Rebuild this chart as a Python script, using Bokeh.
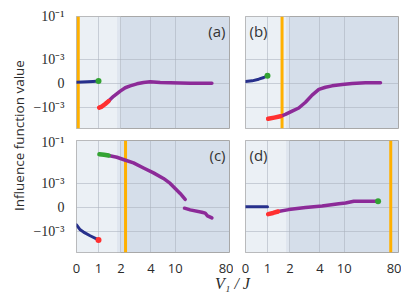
import numpy as np
from math import pi
from bokeh.plotting import figure
from bokeh.layouts import row, column
from bokeh.models import (Range1d, FixedTicker, CustomJSTickFormatter, BoxAnnotation,
                          Span, Label, Grid)
from bokeh.embed import file_html
from bokeh.resources import INLINE

# ---------------- data ----------------
X_TICKS = [0, 1, 2, 4, 10, 80]
X_TICK_LABELS = ["0", "1", "2", "4", "10", "80"]
X_TICK_POS = [0, 1, 2.018, 3.382, 4.486, 6.955]   # axis scale definition (piecewise)
Y_TICKS = [-1e-3, 0, 1e-3, 1e-1]
Y_TICK_LABELS = ["\u221210\u207b\u00b3", "0", "10\u207b\u00b3", "10\u207b\u00b9"]
Y_MIN, Y_MAX = -1e-2, 1e-1
LINTHRESH = 1e-3

REGION_LIGHT = [0, 1.85]
REGION_MID = [1.85, 2.0]

# panel (a)
A_BLUE_V = [0, 0.25, 0.5, 0.75, 1.0]
A_BLUE_Y = [4e-5, 5e-5, 6e-5, 7.5e-5, 9e-5]
A_GREEN_V = [1.0]
A_GREEN_Y = [9e-5]
A_RED_V = [1.03, 1.15, 1.3, 1.45]
A_RED_Y = [-1.07e-3, -9.8e-4, -8.7e-4, -7.5e-4]
A_PURPLE_V = [1.45, 1.67, 1.97, 2.29, 2.62, 3.07, 3.51, 3.95, 6.3, 8.77, 16.4, 29.3, 42.2, 57.3]
A_PURPLE_Y = [-7.5e-4, -5.5e-4, -3.3e-4, -1.9e-4, -1.1e-4, -2.5e-5, 3e-5, 6e-5, 3e-5,
              1.7e-5, 5e-6, 0, -5e-6, -5e-6]
A_ORANGE = 0.08

# panel (b)
B_BLUE_V = [0, 0.3, 0.6, 0.83, 1.0]
B_BLUE_Y = [7e-5, 1e-4, 1.7e-4, 2.4e-4, 3.1e-4]
B_GREEN_V = [1.0]
B_GREEN_Y = [3.1e-4]
B_RED_V = [1.03, 1.3, 1.58]
B_RED_Y = [-3.5e-3, -3.1e-3, -2.7e-3]
B_PURPLE_V = [1.58, 1.80, 2.15, 2.59, 3.04, 3.48, 3.93, 5.38, 7.0, 9.5, 20.2, 37.4, 56.8]
B_PURPLE_Y = [-2.7e-3, -2.2e-3, -1.55e-3, -1.11e-3, -8.0e-4, -5.0e-4, -2.6e-4, -1.7e-4,
              -1.1e-4, -5.4e-5, -1.3e-5, 1.7e-5, 1.7e-5]
B_ORANGE = 1.65

# panel (c)
C_BLUE_V = [0, 0.17, 0.32, 0.62, 1.0]
C_BLUE_Y = [-7.4e-4, -9.5e-4, -1.12e-3, -1.66e-3, -2.6e-3]
C_RED_V = [1.0]
C_RED_Y = [-2.6e-3]
C_GREEN_V = [1.04, 1.25, 1.45]
C_GREEN_Y = [2.3e-2, 2.15e-2, 2.0e-2]
C_PURPLE_V = [1.45, 1.82, 2.31, 2.84, 3.51, 4.64, 7.1, 8.77, 10, 16.4, 22.9]
C_PURPLE_Y = [2.0e-2, 1.66e-2, 1.2e-2, 9.0e-3, 5.2e-3, 3.1e-3, 1.7e-3, 1.0e-3, 7.9e-4,
              5.8e-4, 3.3e-4]
C_PURPLE2_V = [22, 29.3, 44.4, 48.7, 51.6, 57.3]
C_PURPLE2_Y = [-4e-5, -1.1e-4, -2.1e-4, -2.5e-4, -3.6e-4, -4.5e-4]
C_ORANGE = 2.31

# panel (d)
D_BLUE_V = [0, 0.5, 1.0]
D_BLUE_Y = [2e-5, 2e-5, 2e-5]
D_RED_V = [1.03, 1.25, 1.47]
D_RED_Y = [-2.9e-4, -2.4e-4, -1.8e-4]
D_PURPLE_V = [1.47, 1.95, 3.04, 4.54, 8.67, 11.7, 22.4, 37.4, 53.7]
D_PURPLE_Y = [-1.8e-4, -1.0e-4, -1.6e-5, 5.4e-5, 1.5e-4, 1.8e-4, 2.5e-4, 2.5e-4, 2.5e-4]
D_GREEN_V = [53.7]
D_GREEN_Y = [2.5e-4]
D_ORANGE = 70

# ---------------- scales ----------------
LINSCALE = 1.0 / (1.0 - 1.0 / 10.0)


def tx(v):
    return np.interp(np.asarray(v, float), X_TICKS, X_TICK_POS)


def ty(y):
    y = np.asarray(y, float)
    a = np.abs(y)
    safe = np.maximum(a, LINTHRESH)
    return np.where(a <= LINTHRESH, y / LINTHRESH * LINSCALE,
                    np.sign(y) * (LINSCALE + np.log10(safe / LINTHRESH)))


BLUE = "#27308c"
PURPLE = "#8c2a98"
RED = "#ff3030"
GREEN = "#33a333"
ORANGE = "#ffb000"
BG_DARK = "#d5deea"
BG_LIGHT = "#ebf0f5"
BG_MID = "#dfe6ef"

SANS = "Open Sans"
SERIF = "Liberation Serif"

fmt_js = """
let best = 0;
for (let i = 0; i < pos.length; i++) {
  if (Math.abs(pos[i] - tick) < Math.abs(pos[best] - tick)) best = i;
}
return lab[best];
"""


def panel(name, series, orange, left_axis, bottom_axis, label_right,
          mb_left, mb_right, mb_top, mb_bottom):
    p = figure(frame_width=153, frame_height=112,
               x_range=Range1d(float(tx(0)), float(tx(80))),
               y_range=Range1d(float(ty(Y_MIN)), float(ty(Y_MAX))),
               toolbar_location=None, output_backend="svg",
               min_border_left=mb_left, min_border_right=mb_right,
               min_border_top=mb_top, min_border_bottom=mb_bottom)
    p.background_fill_color = BG_DARK
    p.border_fill_color = "white"
    p.outline_line_color = "#a8a8a8"
    p.outline_line_width = 1

    xt = [float(t) for t in tx(X_TICKS)]
    yt = [float(t) for t in ty(Y_TICKS)]
    p.xaxis.ticker = FixedTicker(ticks=xt)
    p.yaxis.ticker = FixedTicker(ticks=yt)
    p.xaxis.formatter = CustomJSTickFormatter(args=dict(pos=xt, lab=X_TICK_LABELS), code=fmt_js)
    p.yaxis.formatter = CustomJSTickFormatter(args=dict(pos=yt, lab=Y_TICK_LABELS), code=fmt_js)
    for ax in (p.xaxis[0], p.yaxis[0]):
        ax.axis_line_color = None
        ax.major_tick_line_color = None
        ax.minor_tick_line_color = None
        ax.major_label_text_color = "#2b2b2b"
    p.xaxis.major_label_text_font = SANS
    p.xaxis.major_label_text_font_size = "13px"
    p.xaxis.major_label_standoff = 5
    p.yaxis.major_label_text_font = SERIF
    p.yaxis.major_label_text_font_size = "14px"
    p.yaxis.major_label_standoff = 6
    p.xaxis.visible = bottom_axis
    p.yaxis.visible = left_axis

    for g in p.grid:
        g.visible = False
    p.add_layout(Grid(dimension=0, ticker=FixedTicker(ticks=xt),
                      grid_line_color="#aab1bc", grid_line_alpha=0.55, grid_line_width=1))
    p.add_layout(Grid(dimension=1, ticker=FixedTicker(ticks=yt),
                      grid_line_color="#aab1bc", grid_line_alpha=0.55, grid_line_width=1))

    p.add_layout(BoxAnnotation(left=float(tx(REGION_LIGHT[0])), right=float(tx(REGION_LIGHT[1])),
                               fill_color=BG_LIGHT, fill_alpha=1, line_color=None, level="image"))
    p.add_layout(BoxAnnotation(left=float(tx(REGION_MID[0])), right=float(tx(REGION_MID[1])),
                               fill_color=BG_MID, fill_alpha=1, line_color=None, level="image"))

    p.add_layout(Span(location=float(tx(orange)), dimension="height", line_color=ORANGE,
                      line_width=3, level="underlay"))

    for kind, v, y in series:
        xs, ys = tx(v), ty(y)
        if kind == "blue":
            p.line(xs, ys, line_color=BLUE, line_width=3, line_cap="round", line_join="round")
        elif kind == "purple":
            p.line(xs, ys, line_color=PURPLE, line_width=3.5, line_cap="round", line_join="round")
        elif kind in ("red", "green"):
            col = RED if kind == "red" else GREEN
            if len(v) > 1:
                p.line(xs, ys, line_color=col, line_width=4.5, line_cap="round", line_join="round")
            else:
                p.scatter(xs, ys, size=6, fill_color=col, line_color=None)

    if label_right:
        lab = Label(x=float(tx(80)), y=float(ty(Y_MAX)), text=name, text_align="right",
                    text_baseline="top", x_offset=-4, y_offset=-4,
                    text_font=SANS, text_font_size="15px", text_color="#333333")
    else:
        lab = Label(x=float(tx(0)), y=float(ty(Y_MAX)), text=name, text_align="left",
                    text_baseline="top", x_offset=4, y_offset=-4,
                    text_font=SANS, text_font_size="15px", text_color="#333333")
    p.add_layout(lab)
    return p


pa = panel("(a)", [("blue", A_BLUE_V, A_BLUE_Y), ("purple", A_PURPLE_V, A_PURPLE_Y),
                   ("red", A_RED_V, A_RED_Y), ("green", A_GREEN_V, A_GREEN_Y)],
           A_ORANGE, True, False, True, 48, 4, 16, 6)
pb = panel("(b)", [("blue", B_BLUE_V, B_BLUE_Y), ("purple", B_PURPLE_V, B_PURPLE_Y),
                   ("red", B_RED_V, B_RED_Y), ("green", B_GREEN_V, B_GREEN_Y)],
           B_ORANGE, False, False, False, 12, 3, 16, 6)
pc = panel("(c)", [("blue", C_BLUE_V, C_BLUE_Y), ("purple", C_PURPLE_V, C_PURPLE_Y),
                   ("purple", C_PURPLE2_V, C_PURPLE2_Y),
                   ("green", C_GREEN_V, C_GREEN_Y), ("red", C_RED_V, C_RED_Y)],
           C_ORANGE, True, True, True, 48, 4, 6, 22)
pd_ = panel("(d)", [("blue", D_BLUE_V, D_BLUE_Y), ("purple", D_PURPLE_V, D_PURPLE_Y),
                    ("red", D_RED_V, D_RED_Y), ("green", D_GREEN_V, D_GREEN_Y)],
            D_ORANGE, False, True, False, 12, 3, 6, 22)

GRID_H = 134 + 140
YLAB_W = 28
ylab = figure(width=YLAB_W, height=GRID_H, x_range=Range1d(0, 1), y_range=Range1d(0, 1),
              toolbar_location=None, output_backend="svg", min_border=0,
              x_axis_location=None, y_axis_location=None, outline_line_color=None)
ylab.grid.visible = False
ylab.add_layout(Label(x=18 / YLAB_W, y=(GRID_H - 135) / GRID_H, text="Influence function value",
                      angle=pi / 2, text_align="center", text_baseline="middle",
                      text_font=SANS, text_font_size="13.5px", text_color="#2b2b2b"))

TOTAL_W = YLAB_W + 48 + 153 + 4 + 12 + 153 + 3
XLAB_H = 24
xlab = figure(width=TOTAL_W, height=XLAB_H, x_range=Range1d(0, 1), y_range=Range1d(0, 1),
              toolbar_location=None, output_backend="svg", min_border=0,
              x_axis_location=None, y_axis_location=None, outline_line_color=None)
xlab.grid.visible = False
xlab.add_layout(Label(x=232 / TOTAL_W, y=(XLAB_H - 8) / XLAB_H, text="V\u2081 / J",
                      text_align="center", text_baseline="middle", text_font=SERIF,
                      text_font_style="italic", text_font_size="16px", text_color="#2b2b2b"))

layout = column(row(ylab, column(row(pa, pb), row(pc, pd_))), xlab)

open("out.html", "w").write(file_html(layout, INLINE))
